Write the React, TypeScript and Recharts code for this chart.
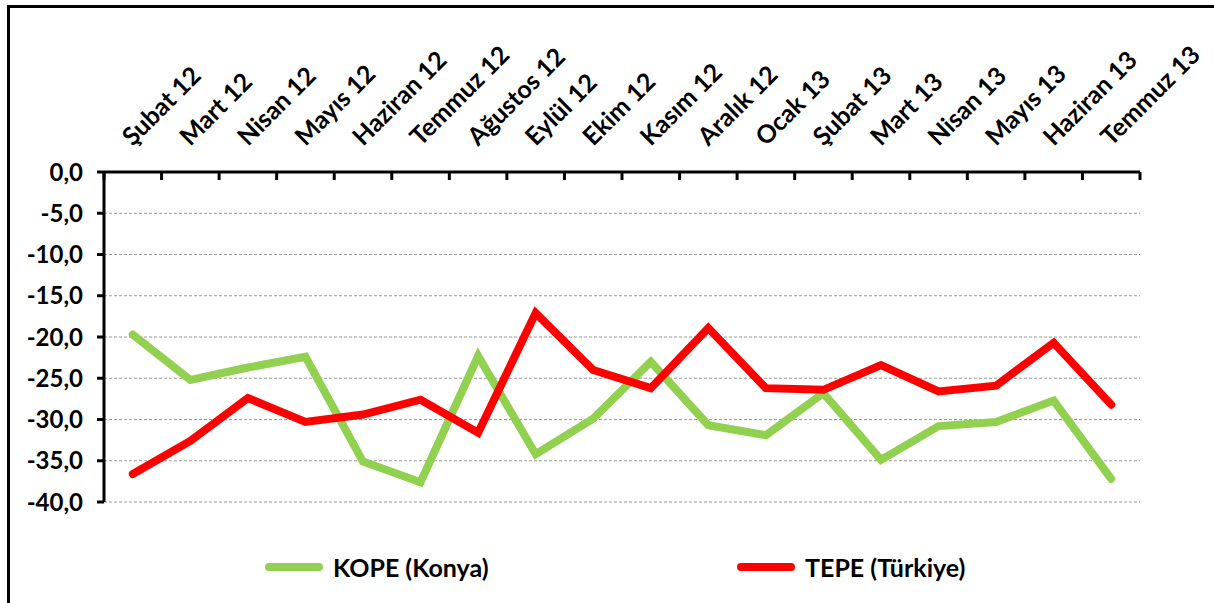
import { LineChart, Line, XAxis, YAxis, CartesianGrid, Legend } from 'recharts';

const months = [
  'Şubat 12', 'Mart 12', 'Nisan 12', 'Mayıs 12', 'Haziran 12', 'Temmuz 12',
  'Ağustos 12', 'Eylül 12', 'Ekim 12', 'Kasım 12', 'Aralık 12', 'Ocak 13',
  'Şubat 13', 'Mart 13', 'Nisan 13', 'Mayıs 13', 'Haziran 13', 'Temmuz 13',
];
const kope = [-19.7, -25.2, -23.7, -22.4, -35.1, -37.6, -22.3, -34.2, -29.9, -23.0, -30.7, -31.9, -26.8, -34.9, -30.8, -30.3, -27.7, -37.2];
const tepe = [-36.6, -32.6, -27.4, -30.3, -29.4, -27.6, -31.6, -17.1, -24.0, -26.2, -18.9, -26.2, -26.4, -23.4, -26.6, -25.9, -20.7, -28.2];
const yTicks = [0, -5, -10, -15, -20, -25, -30, -35, -40];

const FONT = 'Lato, "Open Sans", sans-serif';

const data = months.map((m, i) => ({ x: i + 0.5, month: m, kope: kope[i], tepe: tepe[i] }));
const labelTicks = months.map((_, i) => i + 0.5);
const boundaryTicks = Array.from({ length: months.length + 1 }, (_, i) => i);

function MonthTick(props: any) {
  const { x, y, payload } = props;
  const label = months[Math.floor(payload.value)];
  return (
    <text
      x={x}
      y={y - 25}
      transform={`rotate(-45, ${x}, ${y - 25})`}
      textAnchor="start"
      fill="#000"
      fontSize={25}
      fontWeight={700}
      fontFamily={FONT}
    >
      {label}
    </text>
  );
}

function LegendContent() {
  const items = [
    { name: 'KOPE (Konya)', color: '#92d050', left: 265 },
    { name: 'TEPE (Türkiye)', color: '#ff0000', left: 737 },
  ];
  return (
    <div style={{ position: 'relative', height: 32, width: 1214 }}>
      {items.map(it => (
        <div key={it.name} style={{ position: 'absolute', left: it.left, top: 0, display: 'flex', alignItems: 'center' }}>
          <div style={{ width: 58, height: 8, borderRadius: 4, background: it.color }} />
          <span style={{ marginLeft: 10, fontSize: 25, fontWeight: 700, fontFamily: FONT, color: '#000' }}>{it.name}</span>
        </div>
      ))}
    </div>
  );
}

export default function App() {
  return (
    <div style={{ position: 'absolute', left: 0, top: 0, width: 1214, height: 603, background: '#fff', overflow: 'hidden' }}>
      <div style={{
        position: 'absolute', left: 7, top: 5, width: 1220, height: 595,
        borderLeft: '3px solid #000', borderTop: '3px solid #000', borderBottom: '2px solid #bbb',
      }} />
      <div style={{ position: 'absolute', left: 0, top: 0 }}>
        <LineChart width={1214} height={603} data={data} margin={{ top: 22, right: 74, left: 24, bottom: 101 }}>
          <CartesianGrid
            vertical={false}
            horizontal
            stroke="#9a9a9a"
            strokeDasharray="3 2"
            horizontalValues={yTicks.filter(v => v !== 0)}
          />
          <XAxis
            xAxisId="lab"
            type="number"
            dataKey="x"
            orientation="top"
            domain={[0, 18]}
            allowDataOverflow
            ticks={labelTicks}
            interval={0}
            height={150}
            tickLine={false}
            tickSize={0}
            tickMargin={0}
            axisLine={{ stroke: '#000', strokeWidth: 3 }}
            tick={<MonthTick />}
          />
          <XAxis
            xAxisId="tk"
            type="number"
            dataKey="x"
            orientation="top"
            mirror
            domain={[0, 18]}
            allowDataOverflow
            ticks={boundaryTicks}
            interval={0}
            tick={() => <g />}
            tickSize={8}
            tickLine={{ stroke: '#000', strokeWidth: 3 }}
            axisLine={false}
          />
          <YAxis
            type="number"
            domain={[-40, 0]}
            ticks={yTicks}
            interval={0}
            width={80}
            tickSize={7}
            tickMargin={14}
            tickLine={{ stroke: '#000', strokeWidth: 3 }}
            axisLine={{ stroke: '#000', strokeWidth: 3 }}
            tickFormatter={(v: number) => v.toFixed(1).replace('.', ',')}
            tick={{ fill: '#000', fontSize: 24, fontWeight: 700, fontFamily: FONT }}
          />
          <Legend
            verticalAlign="middle"
            align="center"
            layout="horizontal"
            content={<LegendContent />}
            wrapperStyle={{ top: 552, left: 0, width: 1214 }}
          />
          <Line
            xAxisId="lab"
            type="linear"
            dataKey="kope"
            name="KOPE (Konya)"
            stroke="#92d050"
            strokeWidth={8}
            strokeLinecap="round"
            dot={false}
            isAnimationActive={false}
          />
          <Line
            xAxisId="lab"
            type="linear"
            dataKey="tepe"
            name="TEPE (Türkiye)"
            stroke="#ff0000"
            strokeWidth={8}
            strokeLinecap="round"
            dot={false}
            isAnimationActive={false}
          />
        </LineChart>
      </div>
    </div>
  );
}
